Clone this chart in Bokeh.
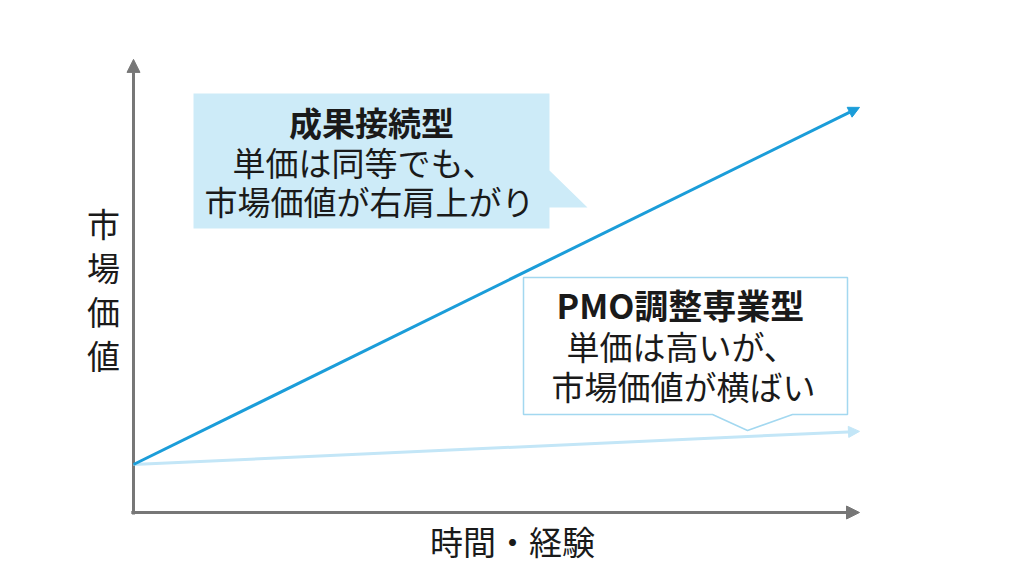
from bokeh.plotting import figure
from bokeh.models import Range1d, Arrow, NormalHead, Label
from bokeh.embed import file_html
from bokeh.resources import INLINE

# ---- data ----
time = [0, 10]
outcome_value = [1.0, 8.44]   # 成果接続型
pmo_value = [1.0, 1.69]       # PMO調整専業型
axis_x_end = 10.0
axis_y_end = 9.44

x_label = "時間・経験"
y_label_chars = ["市", "場", "価", "値"]
box1_lines = ["成果接続型", "単価は同等でも、", "市場価値が右肩上がり"]
box2_lines = ["PMO調整専業型", "単価は高いが、", "市場価値が横ばい"]

# ---- layout (pixel mapping) ----
W, H = 1008, 570
OX, OY = 133, 512          # page px of data origin
SX, SY = 72.6, 48.0        # px per unit
x0 = -OX / SX
y1 = OY / SY


def px(v):
    return (v - OX) / SX


def py(v):
    return (OY - v) / SY


FONT = "Noto Sans CJK JP"
DARK = "#1b9dd9"
LIGHT = "#c3e6f7"
GRAY = "#777777"

p = figure(width=W, height=H, x_range=Range1d(x0, x0 + W / SX),
           y_range=Range1d(y1 - H / SY, y1), output_backend="svg",
           toolbar_location=None, min_border=0, x_axis_type=None,
           y_axis_type=None)
p.grid.visible = False
p.outline_line_color = None
p.background_fill_color = "white"
p.border_fill_color = "white"

# callout 1 (filled)
c1 = [(193, 93), (549, 93), (549, 170), (587, 207), (549, 207), (549, 228), (193, 228)]
p.patch([px(a) for a, b in c1], [py(b) for a, b in c1], fill_color="#cdebf8",
        line_color=None)
# callout 2 (outlined)
c2 = [(523, 277), (847, 277), (847, 414), (792, 414), (747, 430), (712, 414), (523, 414)]
p.patch([px(a) for a, b in c2], [py(b) for a, b in c2], fill_color="white",
        line_color="#a3d8f0", line_width=1.5)

# axes with arrows
p.add_layout(Arrow(x_start=-0.03, y_start=0, x_end=axis_x_end, y_end=0,
                   line_color=GRAY, line_width=3,
                   end=NormalHead(size=13, fill_color=GRAY, line_color=GRAY)))
p.add_layout(Arrow(x_start=0, y_start=-0.04, x_end=0, y_end=axis_y_end,
                   line_color=GRAY, line_width=3,
                   end=NormalHead(size=13, fill_color=GRAY, line_color=GRAY)))

# data lines
p.add_layout(Arrow(x_start=time[0], y_start=pmo_value[0], x_end=time[1], y_end=pmo_value[1],
                   line_color=LIGHT, line_width=3,
                   end=NormalHead(size=11, fill_color=LIGHT, line_color=LIGHT)))
p.add_layout(Arrow(x_start=time[0], y_start=outcome_value[0], x_end=time[1], y_end=outcome_value[1],
                   line_color=DARK, line_width=3,
                   end=NormalHead(size=11, fill_color=DARK, line_color=DARK)))

FS = "33px"


def lab(text, x, y, align="center", bold=False, size=FS):
    p.add_layout(Label(x=px(x), y=py(y), text=text, text_font=FONT,
                       text_font_size=size, text_align=align,
                       text_baseline="middle", text_color="#1a1a1a",
                       text_font_style="bold" if bold else "normal"))


# box 1 text
lab(box1_lines[0], 371, 121, bold=True, size="33px")
lab(box1_lines[1], 232, 161, align="left")
lab(box1_lines[2], 204, 200, align="left")
# box 2 text
lab(box2_lines[0], 556, 304, align="left", bold=True, size="34px")
lab(box2_lines[1], 566, 345, align="left")
lab(box2_lines[2], 551, 385, align="left")

# axis labels
for ch, yy in zip(y_label_chars, [222, 266, 310, 354]):
    lab(ch, 103, yy)
lab(x_label, 512, 540)

open("out.html", "w").write(file_html(p, INLINE))
